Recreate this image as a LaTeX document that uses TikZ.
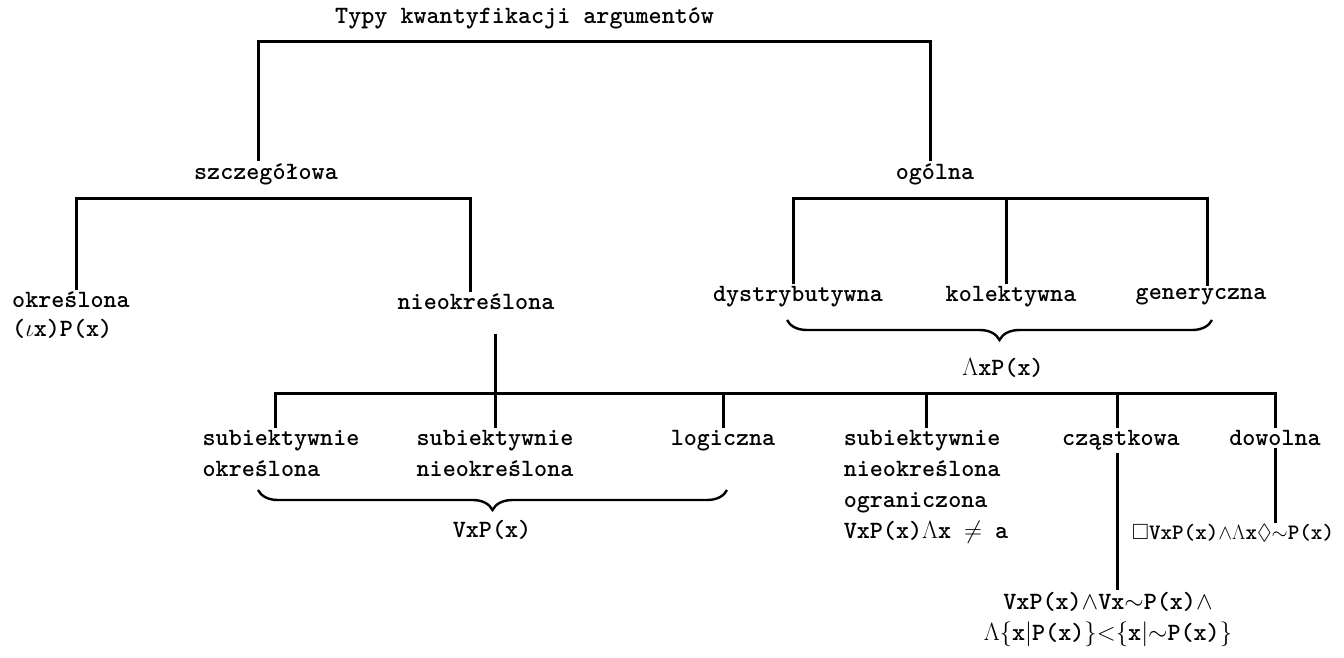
\documentclass[tikz,border=0pt]{standalone}
\usepackage{amssymb}
\usetikzlibrary{decorations.pathreplacing}

\begin{document}
\begin{tikzpicture}[
  x=1pt, y=-1pt,
  lbl/.style={font=\ttfamily\bfseries\fontsize{24.88}{31}\selectfont, inner sep=2pt},
  branch/.style={line width=3pt},
  brace/.style={decorate, decoration={brace, mirror, amplitude=20pt, aspect=0.5}, line width=2.4pt}
]
\useasboundingbox (0,0) rectangle (1344,658);

% --- title ---
\node[lbl, anchor=west] (title) at (333,18) {Typy kwantyfikacji argumentów};

% --- first level ---
\node[lbl] (szcz) at (266,174) {szczegółowa};
\node[lbl] (ogolna) at (935,174) {ogólna};

% --- under szczegółowa ---
\node[lbl, anchor=west] (okr) at (10,300) {określona};
\node[lbl, anchor=west] (okrf) at (10,329) {($\iota$x)P(x)};
\node[lbl] (nieokr) at (476,302) {nieokreślona};

% --- under ogólna ---
\node[lbl] (dystr) at (798,297) {dystrybutywna};
\node[lbl] (kolek) at (1011,297) {kolektywna};
\node[lbl] (gener) at (1201,297) {generyczna};
\node[lbl] (ogf) at (1003,368) {$\Lambda$xP(x)};

% --- under nieokreślona ---
\node[lbl, anchor=north, align=left] (so) at (281,428) {subiektywnie\\określona};
\node[lbl, anchor=north, align=left] (sn) at (495,428) {subiektywnie\\nieokreślona};
\node[lbl, anchor=north] (log) at (723,428) {logiczna};
\node[lbl] (nf) at (492,530) {VxP(x)};
\node[lbl, anchor=north, align=left] (sno) at (926,428) {subiektywnie\\nieokreślona\\ograniczona\\VxP(x)$\Lambda$x $\neq$ a};
\node[lbl, anchor=north] (czast) at (1121,428) {cząstkowa};
\node[lbl, anchor=north] (dow) at (1275,428) {dowolna};

% --- formulas ---
\node[lbl, font=\ttfamily\bfseries\fontsize{22}{27}\selectfont, inner sep=1pt] (dowf) at (1233,533) {$\Box$VxP(x)${\wedge}\Lambda$x${\Diamond}{\sim}$P(x)};
\node[lbl, anchor=north, align=center] (czf) at (1108,590) {VxP(x)${\wedge}$Vx${\sim}$P(x)${\wedge}$\\$\Lambda\{$x$|$P(x)$\}{<}\{$x$|{\sim}$P(x)$\}$};

% --- bars ---
\coordinate (topbar) at (600,42);
\coordinate (szbar) at (270,198);
\coordinate (ogbar) at (1000,198);
\coordinate (nbar) at (700,393);

\draw[branch] ([xshift=-8pt]szcz.north) |- (topbar) -| ([xshift=-5pt]ogolna.north);
\draw[branch] ([xshift=6pt]okr.north) |- (szbar) -| ([xshift=-6pt]nieokr.north);
\draw[branch] ([xshift=-5pt]dystr.north) |- (ogbar) -| ([xshift=6pt]gener.north);
\draw[branch] ([xshift=-5pt]kolek.north) -- ([xshift=-5pt]kolek.north |- ogbar);

\draw[branch] ([xshift=-6pt]so.north) |- (nbar) -| (dow.north);
\draw[branch] ([yshift=-22pt]nieokr.south -| sn.north) -- (sn.north);
\draw[branch] (log.north) -- (log.north |- nbar);
\draw[branch] (sno.north) -- (sno.north |- nbar);
\draw[branch] ([xshift=-4pt]czast.north) -- ([xshift=-4pt]czast.north |- nbar);

\draw[branch] ([xshift=-4pt]czast.south) -- ([xshift=-4pt]czast.south |- czf.north);
\draw[branch] (dow.south) -- (dow.south |- dowf.north);

% --- braces ---
\coordinate (ogL) at (787,320);
\coordinate (ogR) at (1212,320);
\draw[brace] (ogL) -- (ogR);
\coordinate (nL) at (258,490);
\coordinate (nR) at (727,490);
\draw[brace] (nL) -- (nR);

\end{tikzpicture}
\end{document}
